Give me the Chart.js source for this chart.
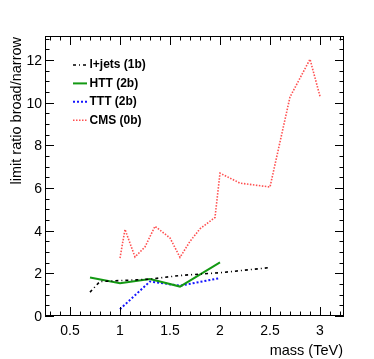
<!DOCTYPE html>
<html>
<head>
<meta charset="utf-8">
<script src="https://cdn.jsdelivr.net/npm/chart.js@4/dist/chart.umd.min.js"></script>
<style>
  html, body { margin: 0; padding: 0; background: #fff; }
  #wrap { width: 374px; height: 359px; }
</style>
</head>
<body>
<div id="wrap"><canvas id="ratio-chart" width="374" height="359"></canvas></div>
<script>
// valores (masa en TeV, ratio broad/narrow)
const ljetsMass = [0.7, 0.8, 1.0, 1.3, 1.6, 2.0, 2.5];
const ljetsRatio = [1.12, 1.62, 1.66, 1.73, 1.9, 2.03, 2.27];

const httMass = [0.7, 1.0, 1.3, 1.6, 2.0];
const httRatio = [1.81, 1.54, 1.73, 1.38, 2.51];

const tttMass = [1.0, 1.3, 1.6, 2.0];
const tttRatio = [0.32, 1.62, 1.42, 1.78];

const cmsMass = [1.0, 1.05, 1.15, 1.25, 1.35, 1.5, 1.6, 1.7, 1.8, 1.95, 2.0, 2.2, 2.5, 2.7, 2.9, 3.0];
const cmsRatio = [2.72, 4.06, 2.77, 3.24, 4.21, 3.66, 2.75, 3.5, 4.09, 4.62, 6.7, 6.23, 6.05, 10.27, 12.04, 10.3];

const seriesNames = ["l+jets (1b)", "HTT (2b)", "TTT (2b)", "CMS (0b)"];
const xTickValues = [0.5, 1, 1.5, 2, 2.5, 3];
const yTickValues = [0, 2, 4, 6, 8, 10, 12];
const xTitle = "mass (TeV)";
const yTitle = "limit ratio broad/narrow";

const FONT = "'Liberation Sans', Arial, Helvetica, sans-serif";

function toPoints(xs, ys) {
    return xs.map((x, i) => ({ x: x, y: ys[i] }));
}

// marco, ticks hacia adentro y etiquetas, estilo ROOT
const framePlugin = {
    id: "frame",
    afterDatasetsDraw(chart) {
        const ctx = chart.ctx;
        const a = chart.chartArea;
        const xs = chart.scales.x;
        const ys = chart.scales.y;
        ctx.save();
        ctx.strokeStyle = "#000";
        ctx.lineWidth = 1;
        ctx.strokeRect(a.left + 0.5, a.top + 0.5, a.right - a.left - 1, a.bottom - a.top - 1);

        ctx.beginPath();
        // eje x: mayores cada 0.5, menores cada 0.1
        for (let k = 3; k <= 32; k++) {
            const v = k / 10;
            if (v < xs.min || v > xs.max) continue;
            const px = Math.round(xs.getPixelForValue(v)) + 0.5;
            const len = (k % 5 === 0) ? 9 : 4.5;
            ctx.moveTo(px, a.bottom);
            ctx.lineTo(px, a.bottom - len);
            ctx.moveTo(px, a.top);
            ctx.lineTo(px, a.top + len);
        }
        // eje y: mayores cada 2, menores cada 0.5
        for (let k = 0; k <= 26; k++) {
            const v = k / 2;
            if (v < ys.min || v > ys.max) continue;
            const py = Math.round(ys.getPixelForValue(v)) + 0.5;
            const len = (k % 4 === 0) ? 9 : 4.5;
            ctx.moveTo(a.left, py);
            ctx.lineTo(a.left + len, py);
            ctx.moveTo(a.right, py);
            ctx.lineTo(a.right - len, py);
        }
        ctx.stroke();

        // etiquetas de los ticks
        ctx.fillStyle = "#000";
        ctx.font = "14px " + FONT;
        ctx.textBaseline = "alphabetic";
        ctx.textAlign = "center";
        xs.ticks.forEach(function (t) {
            ctx.fillText(String(t.value), xs.getPixelForValue(t.value), a.bottom + 19);
        });
        ctx.textAlign = "right";
        ys.ticks.forEach(function (t) {
            ctx.fillText(String(t.value), a.left - 3, ys.getPixelForValue(t.value) + 5);
        });

        // titulos de los ejes
        ctx.font = "14.5px " + FONT;
        ctx.textAlign = "right";
        ctx.fillText(xTitle, a.right - 1, a.bottom + 39);
        ctx.translate(21, a.top + 1);
        ctx.rotate(-Math.PI / 2);
        ctx.fillText(yTitle, 0, 0);
        ctx.restore();
    },
    afterDraw(chart) {
        // leyenda dentro del area
        const ctx = chart.ctx;
        ctx.save();
        ctx.font = "bold 12px " + FONT;
        ctx.textBaseline = "middle";
        ctx.fillStyle = "#000";
        chart.data.datasets.forEach(function (ds, i) {
            const y = 65 + i * 18.4;
            ctx.strokeStyle = ds.borderColor;
            ctx.lineWidth = ds.borderWidth;
            ctx.setLineDash(ds.borderDash || []);
            ctx.beginPath();
            ctx.moveTo(73, y);
            ctx.lineTo(87, y);
            ctx.stroke();
            ctx.setLineDash([]);
            ctx.fillText(ds.label, 89.5, y);
        });
        ctx.restore();
    }
};

const data = {
    datasets: [
        {
            label: seriesNames[0],
            data: toPoints(ljetsMass, ljetsRatio),
            borderColor: "#000000",
            borderWidth: 1.6,
            borderDash: [3, 3, 1, 3],
            pointRadius: 0,
            fill: false,
            tension: 0,
        },
        {
            label: seriesNames[1],
            data: toPoints(httMass, httRatio),
            borderColor: "#139913",
            borderWidth: 2,
            borderDash: [],
            pointRadius: 0,
            fill: false,
            tension: 0,
        },
        {
            label: seriesNames[2],
            data: toPoints(tttMass, tttRatio),
            borderColor: "#1515ff",
            borderWidth: 2,
            borderDash: [2, 2],
            pointRadius: 0,
            fill: false,
            tension: 0,
        },
        {
            label: seriesNames[3],
            data: toPoints(cmsMass, cmsRatio),
            borderColor: "#ff5050",
            borderWidth: 1.6,
            borderDash: [1.5, 1.5],
            pointRadius: 0,
            fill: false,
            tension: 0,
        },
    ],
};

const config = {
    type: "line",
    data: data,
    options: {
        responsive: false,
        animation: false,
        layout: { padding: { top: 36, right: 30, left: 45, bottom: 43 } },
        plugins: { legend: { display: false }, tooltip: { enabled: false } },
        scales: {
            x: {
                type: "linear",
                min: 0.25,
                max: 3.24,
                afterBuildTicks(scale) { scale.ticks = xTickValues.map(v => ({ value: v })); },
                grid: { display: false, drawTicks: false },
                border: { display: false },
                ticks: { display: false },
                title: { display: false },
            },
            y: {
                min: 0,
                max: 13.13,
                afterBuildTicks(scale) { scale.ticks = yTickValues.map(v => ({ value: v })); },
                grid: { display: false, drawTicks: false },
                border: { display: false },
                ticks: { display: false },
                title: { display: false },
            },
        },
    },
    plugins: [framePlugin],
};

const graph = document.getElementById("ratio-chart");
let myChart = new Chart(graph, config);
</script>
</body>
</html>
